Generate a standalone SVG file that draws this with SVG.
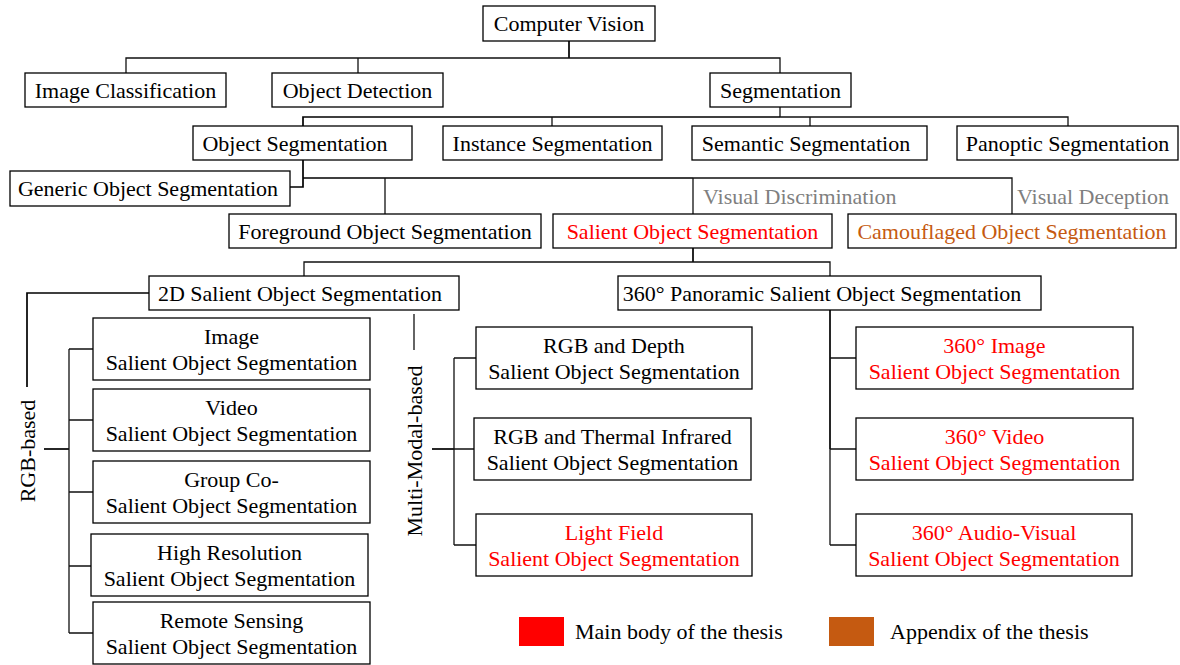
<svg xmlns="http://www.w3.org/2000/svg" width="1180" height="665" viewBox="0 0 1180 665">
<style>
rect.b{fill:#fff;stroke:#000;stroke-width:1.3}
text{font-family:"Liberation Serif","Times New Roman",serif;font-size:22px;fill:#000}
.c{text-anchor:middle}
.red{fill:#ff0000}
.org{fill:#c55a11}
.gray{fill:#7f7f7f}
.ln{fill:none;stroke:#111;stroke-width:1.3}
.lk{fill:none;stroke:#000;stroke-width:1.7}
</style>
<rect width="1180" height="665" fill="#fff"/>
<g id="connectors">
<path class="lk" d="M569,41V58"/>
<path class="ln" d="M126,73V58H780V73M358,58V73"/>
<path class="ln" d="M780,107V117"/>
<path class="lk" d="M303,126V117H780"/>
<path class="ln" d="M552,126V117M780,117H1068V126M810,117V126"/>
<path class="lk" d="M303,160V187H290M303,178H693"/>
<path class="ln" d="M385,178V214M693,178V214M693,178H1012V214"/>
<path class="lk" d="M693,248V262"/>
<path class="ln" d="M304,276V262H830V276"/>
<path class="lk" d="M149,293H27V387"/>
<path class="lk" d="M44,449H69"/>
<path class="ln" d="M69,349V633M69,349H93M69,420H93M69,492H93M69,566H91M69,633H93"/>
<path class="ln" d="M414,314V350"/>
<path class="lk" d="M432,449H454"/>
<path class="ln" d="M454,358V545M454,358H476M454,449H474M454,545H476"/>
<path class="lk" d="M830,310V449"/>
<path class="ln" d="M830,449V545M830,358H856M830,449H856M830,545H856"/>
</g>
<g id="computer-vision"><rect class="b" x="483" y="6" width="172" height="35"/><text class="c" x="569" y="31">Computer Vision</text></g>
<g id="image-classification"><rect class="b" x="25" y="73" width="201" height="34"/><text class="c" x="125.5" y="98">Image Classification</text></g>
<g id="object-detection"><rect class="b" x="272" y="73" width="171" height="34"/><text class="c" x="357.5" y="98">Object Detection</text></g>
<g id="segmentation"><rect class="b" x="710" y="73" width="141" height="34"/><text class="c" x="780.5" y="98">Segmentation</text></g>
<g id="object-segmentation"><rect class="b" x="193" y="126" width="219" height="34"/><text class="c" x="295" y="151">Object Segmentation</text></g>
<g id="instance-segmentation"><rect class="b" x="443" y="126" width="219" height="34"/><text class="c" x="552.5" y="151">Instance Segmentation</text></g>
<g id="semantic-segmentation"><rect class="b" x="692" y="126" width="235" height="34"/><text class="c" x="806" y="151">Semantic Segmentation</text></g>
<g id="panoptic-segmentation"><rect class="b" x="957" y="126" width="221" height="34"/><text class="c" x="1067.5" y="151">Panoptic Segmentation</text></g>
<g id="generic-object-segmentation"><rect class="b" x="10" y="171" width="280" height="35"/><text class="c" x="148" y="196">Generic Object Segmentation</text></g>
<g id="labels-visual"><text class="gray" x="703" y="204">Visual Discrimination</text><text class="gray" x="1017" y="204">Visual Deception</text></g>
<g id="foreground-object-segmentation"><rect class="b" x="229" y="214" width="312" height="34"/><text class="c" x="385" y="239">Foreground Object Segmentation</text></g>
<g id="salient-object-segmentation"><rect class="b" x="553" y="214" width="279" height="34"/><text class="c red" x="692.5" y="239">Salient Object Segmentation</text></g>
<g id="camouflaged-object-segmentation"><rect class="b" x="848" y="214" width="328" height="34"/><text class="c org" x="1012" y="239">Camouflaged Object Segmentation</text></g>
<g id="sos-2d"><rect class="b" x="149" y="276" width="310" height="34"/><text class="c" x="300" y="301">2D Salient Object Segmentation</text></g>
<g id="sos-360"><rect class="b" x="618" y="276" width="423" height="34"/><text class="c" x="822" y="301">360° Panoramic Salient Object Segmentation</text></g>
<g id="rgb-based"><text class="c" transform="translate(35,451) rotate(-90)">RGB-based</text></g>
<g id="multi-modal-based"><text class="c" transform="translate(422,451) rotate(-90)">Multi-Modal-based</text></g>
<g id="image-sos"><rect class="b" x="93" y="318" width="277" height="62"/><text class="c" x="231.5" y="344">Image</text><text class="c" x="231.5" y="370">Salient Object Segmentation</text></g>
<g id="video-sos"><rect class="b" x="93" y="389" width="277" height="62"/><text class="c" x="231.5" y="415">Video</text><text class="c" x="231.5" y="441">Salient Object Segmentation</text></g>
<g id="group-co-sos"><rect class="b" x="93" y="461" width="277" height="62"/><text class="c" x="231.5" y="487">Group Co-</text><text class="c" x="231.5" y="513">Salient Object Segmentation</text></g>
<g id="high-resolution-sos"><rect class="b" x="91" y="534" width="277" height="62"/><text class="c" x="229.5" y="560">High Resolution</text><text class="c" x="229.5" y="586">Salient Object Segmentation</text></g>
<g id="remote-sensing-sos"><rect class="b" x="93" y="602" width="277" height="62"/><text class="c" x="231.5" y="628">Remote Sensing</text><text class="c" x="231.5" y="654">Salient Object Segmentation</text></g>
<g id="rgbd-sos"><rect class="b" x="476" y="327" width="276" height="62"/><text class="c" x="614" y="353">RGB and Depth</text><text class="c" x="614" y="379">Salient Object Segmentation</text></g>
<g id="rgbt-sos"><rect class="b" x="474" y="418" width="277" height="62"/><text class="c" x="612.5" y="444">RGB and Thermal Infrared</text><text class="c" x="612.5" y="470">Salient Object Segmentation</text></g>
<g id="light-field-sos"><rect class="b" x="476" y="514" width="276" height="62"/><text class="c red" x="614" y="540">Light Field</text><text class="c red" x="614" y="566">Salient Object Segmentation</text></g>
<g id="image-360-sos"><rect class="b" x="856" y="327" width="277" height="62"/><text class="c red" x="994.5" y="353">360° Image</text><text class="c red" x="994.5" y="379">Salient Object Segmentation</text></g>
<g id="video-360-sos"><rect class="b" x="856" y="418" width="277" height="62"/><text class="c red" x="994.5" y="444">360° Video</text><text class="c red" x="994.5" y="470">Salient Object Segmentation</text></g>
<g id="audio-visual-360-sos"><rect class="b" x="856" y="514" width="276" height="62"/><text class="c red" x="994" y="540">360° Audio-Visual</text><text class="c red" x="994" y="566">Salient Object Segmentation</text></g>
<g id="legend">
<rect x="519" y="617" width="45" height="29" fill="#ff0000"/><text x="575" y="639">Main body of the thesis</text>
<rect x="829" y="617" width="45" height="29" fill="#c55a11"/><text x="890" y="639">Appendix of the thesis</text>
</g>
</svg>
